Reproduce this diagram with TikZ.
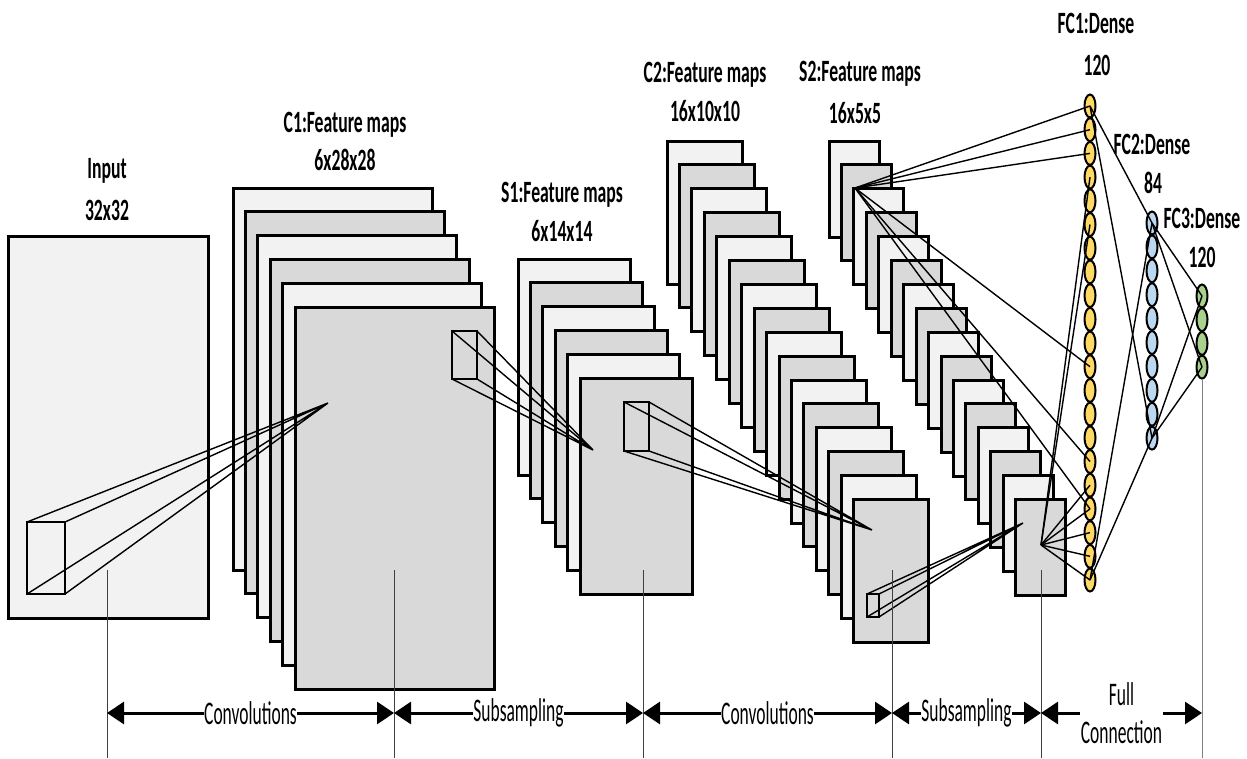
\documentclass[tikz,border=0pt]{standalone}
\usepackage{fontspec}
\setmainfont{Carlito}
\usetikzlibrary{arrows.meta,shapes.geometric}
\definecolor{maplight}{HTML}{F2F2F2}
\definecolor{mapdark}{HTML}{D9D9D9}
\definecolor{fcyellow}{HTML}{FFD966}
\definecolor{fcblue}{HTML}{BDD7EE}
\definecolor{fcgreen}{HTML}{A9D18E}
\tikzset{
  fmap/.style={draw, line width=3pt, anchor=north west, inner sep=0pt, outer sep=0pt},
  kernel/.style={draw, line width=2.8pt, anchor=north west, inner sep=0pt, outer sep=0pt},
  unit/.style={ellipse, draw, line width=2pt, minimum width=11pt, minimum height=23pt, inner sep=0pt},
  head/.style={font=\fontsize{31}{36}\selectfont\bfseries, xscale=0.57, inner sep=0pt, anchor=base},
  span/.style={line width=3pt, {Triangle[length=17pt,width=22pt]}-{Triangle[length=17pt,width=22pt]}},
  spanlabel/.style={font=\fontsize{33}{38}\selectfont, xscale=0.53, fill=white, inner sep=1pt, align=center},
  guide/.style={draw=black!75, line width=1pt},
  wire/.style={line width=1.4pt}
}
\begin{document}
\begin{tikzpicture}[x=1pt,y=-1pt]
\useasboundingbox (0,0) rectangle (1247,758);
% titles
\node[head] (intitle) at (107,178) {Input};
\node[head] (insize) at (107,220) {32x32};
\node[head] (c1title) at (345,132) {C1:Feature maps};
\node[head] (c1size) at (345,170) {6x28x28};
\node[head] (s1title) at (562,202) {S1:Feature maps};
\node[head] (s1size) at (562,241) {6x14x14};
\node[head] (c2title) at (705,82) {C2:Feature maps};
\node[head] (c2size) at (705,121) {16x10x10};
\node[head] (s2title) at (860,81) {S2:Feature maps};
\node[head] (s2size) at (855,123) {16x5x5};
\node[head] (fc1title) at (1096,33) {FC1:Dense};
\node[head] (fc1size) at (1097,75) {120};
\node[head] (fc2title) at (1152,154) {FC2:Dense};
\node[head] (fc2size) at (1153,193) {84};
\node[head] (fc3title) at (1202,228) {FC3:Dense};
\node[head] (fc3size) at (1202,267) {120};
% input and feature map stacks
\node[fmap, fill=maplight, minimum width=200pt, minimum height=382pt] (input) at (8,236) {};
\foreach \lay/\x/\y/\w/\h/\n in {c1/233/188/199/382/6, s1/518/259/112/216/6,
    c2/667/141/75/143/16, s2/829/141/50/96/16}{
  \foreach \i in {1,...,\n}{
    \ifodd\i \def\mapfill{maplight}\else\def\mapfill{mapdark}\fi
    \node[fmap, fill=\mapfill, minimum width=\w pt, minimum height=\h pt]
      (\lay-\i) at ({\x+12.45*(\i-1)},{\y+23.9*(\i-1)}) {};
  }
}
% kernels and where they land
\node[kernel, fill=maplight, minimum width=38pt, minimum height=72pt] (k0) at (27,522) {};
\node[kernel, fill=mapdark, minimum width=25pt, minimum height=48pt] (k1) at (452,331) {};
\node[kernel, fill=mapdark, minimum width=25pt, minimum height=49pt] (k2) at (624,402) {};
\node[kernel, fill=mapdark, minimum width=12pt, minimum height=23pt] (k3) at (867,594) {};
\coordinate (a1) at (328,403);
\coordinate (a2) at (593,450);
\coordinate (a3) at (872,530);
\coordinate (a4) at (1023,523);
\foreach \k/\a in {k0/a1,k1/a2,k2/a3,k3/a4}
  \draw[wire] (\k.north west) -- (\a) (\k.north east) -- (\a)
              (\k.south west) -- (\a) (\k.south east) -- (\a);
% dense layers
\foreach \i in {1,...,21} \node[unit, fill=fcyellow] (fc1-\i) at (1090,{106+23.7*(\i-1)}) {};
\foreach \i in {1,...,10} \node[unit, fill=fcblue] (fc2-\i) at (1152,{223+23.9*(\i-1)}) {};
\foreach \i in {1,...,4} \node[unit, fill=fcgreen] (fc3-\i) at (1202,{296+23.7*(\i-1)}) {};
\coordinate (s2fan) at (855,188);
\coordinate (s2out) at (1041,545);
\foreach \j in {1,2,3,12,16,18} \draw[wire] (s2fan) -- (fc1-\j.center);
\foreach \j in {4,6,17,18,19,20,21} \draw[wire] (s2out) -- (fc1-\j.center);
\foreach \a in {1,21} \foreach \b in {1,10} \draw[wire] (fc1-\a.center) -- (fc2-\b.center);
\foreach \a in {1,10} \foreach \b in {1,4} \draw[wire] (fc2-\a.center) -- (fc3-\b.center);
% guides and spans
\foreach \g/\x in {0/107,1/394,2/643,3/892,4/1041,5/1202}{
  \coordinate (gt\g) at (\x,570);
  \coordinate (gm\g) at (\x,713);
  \coordinate (gb\g) at (\x,758);
}
\foreach \g in {0,...,4} \draw[guide] (gt\g) -- (gb\g);
\draw[guide, draw=gray] (fc3-4.south) -- (gb5);
\draw[span] (gm0) -- node[spanlabel] {Convolutions} (gm1);
\draw[span] (gm1) -- node[spanlabel] {Subsampling} (gm2);
\draw[span] (gm2) -- node[spanlabel] {Convolutions} (gm3);
\draw[span] (gm3) -- node[spanlabel] {Subsampling} (gm4);
\draw[span] (gm4) -- node[spanlabel] {Full\\Connection} (gm5);
\end{tikzpicture}
\end{document}
